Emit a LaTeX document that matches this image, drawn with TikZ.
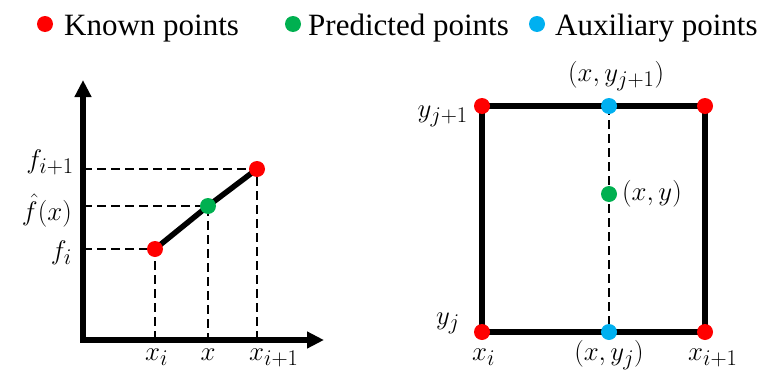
\documentclass[tikz,border=0pt]{standalone}
\usepackage{graphicx}
\usepackage{fontspec}
\setmainfont{Liberation Serif}
\usetikzlibrary{arrows.meta}
\definecolor{kred}{HTML}{FF0000}
\definecolor{pgreen}{HTML}{00B050}
\definecolor{ablue}{HTML}{00B0F0}
\newcommand\mylbl[1]{\scalebox{1.08}{$#1$}}
\begin{document}
\begin{tikzpicture}[x=1pt,y=-1pt,
  dot/.style={circle,inner sep=0pt,minimum size=16pt},
  kn/.style={dot,fill=kred},
  pr/.style={dot,fill=pgreen},
  au/.style={dot,fill=ablue},
  lab/.style={font=\fontsize{24.88}{30}\selectfont,inner sep=0pt},
  leg/.style={font=\fontsize{31}{35}\selectfont,inner sep=0pt,anchor=base west},
  axisline/.style={line width=5.5pt},
  dsh/.style={line width=2.5pt,dash pattern=on 9pt off 5pt}]
\useasboundingbox (0,0) rectangle (764,375);
% legend
\node[kn] (l1) at (45,24) {};
\node[leg] (t1) at (64,35) {Known points};
\node[pr] (l2) at (293,24) {};
\node[leg] (t2) at (308,35) {Predicted points};
\node[au] (l3) at (537,24) {};
\node[leg] (t3) at (555,35) {Auxiliary points};
% left graph
\coordinate (ytop) at (83,80);
\coordinate (O) at (83,340);
\coordinate (xend) at (324,340);
\coordinate (A) at (155,249);
\coordinate (P) at (208,206);
\coordinate (B) at (257,169);
\draw[axisline,{Triangle[length=17pt,width=16pt]}-{Triangle[length=17pt,width=16pt]}] (ytop) -- (O) -- (xend);
\draw[dsh] (A -| O) -- (A) -- (A |- O);
\draw[dsh] (P -| O) -- (P) -- (P |- O);
\draw[dsh] (B -| O) -- (B) -- (B |- O);
\draw[axisline] (A) -- (P) -- (B);
\node[kn] (a) at (A) {};
\node[pr] (p) at (P) {};
\node[kn] (b) at (B) {};
\node[lab,anchor=base east] (fi) at (72,259) {\mylbl{f_i}};
\node[lab,anchor=base east] (fh) at (72,220) {\mylbl{\hat{f}(x)}};
\node[lab,anchor=base east] (fi1) at (74,168) {\mylbl{f_{i+1}}};
\node[lab,anchor=base west] (xi) at (145,360) {\mylbl{x_i}};
\node[lab,anchor=base] (xx) at (208,360) {\mylbl{x}};
\node[lab,anchor=base west] (xi1) at (249,360) {\mylbl{x_{i+1}}};
% right graph
\coordinate (TL) at (482,106);
\coordinate (TR) at (705,106);
\coordinate (BL) at (482,332);
\coordinate (BR) at (705,332);
\coordinate (TM) at (609,106);
\coordinate (BM) at (609,332);
\coordinate (M) at (609,194);
\draw[axisline] (TL) -- (TR) -- (BR) -- (BL) -- cycle;
\draw[dsh] (TM) -- (BM);
\node[kn] (tl) at (TL) {};
\node[kn] (tr) at (TR) {};
\node[kn] (bl) at (BL) {};
\node[kn] (br) at (BR) {};
\node[au] (tm) at (TM) {};
\node[au] (bm) at (BM) {};
\node[pr] (m) at (M) {};
\node[lab,anchor=base east] (yj1) at (468,117) {\mylbl{y_{j+1}}};
\node[lab,anchor=base east] (yj) at (460,324) {\mylbl{y_j}};
\node[lab,anchor=base west] (txy1) at (568,81) {\mylbl{(x,y_{j+1})}};
\node[lab,anchor=base west] (txy) at (622,200) {\mylbl{(x,y)}};
\node[lab,anchor=base] (txyj) at (609,360) {\mylbl{(x,y_j)}};
\node[lab,anchor=base west] (rxi) at (472,360) {\mylbl{x_i}};
\node[lab,anchor=base west] (rxi1) at (688,360) {\mylbl{x_{i+1}}};
\end{tikzpicture}
\end{document}
